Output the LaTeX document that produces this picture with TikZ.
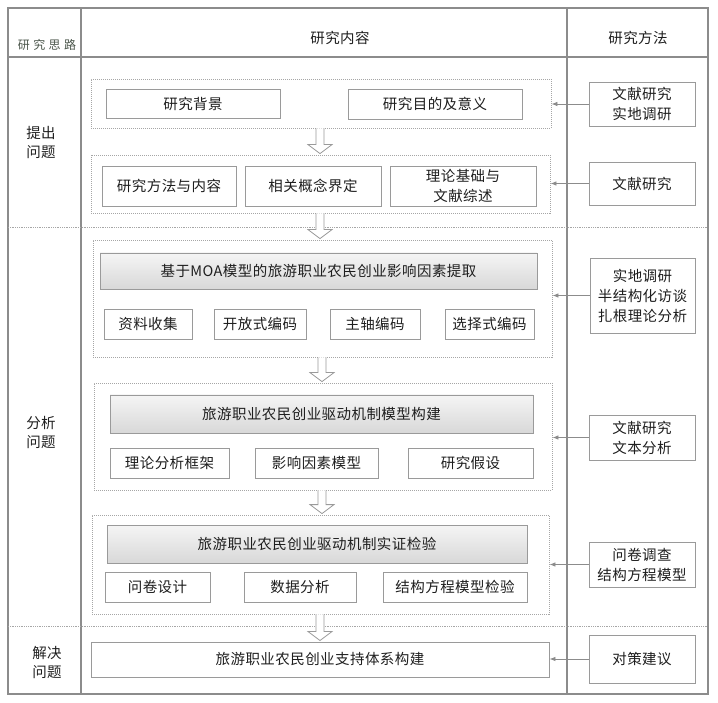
\documentclass[tikz,border=0pt]{standalone}
\usepackage{fontspec}
\setmainfont{Noto Sans CJK SC}
\newfontfamily\cjksp[LetterSpace=3]{Noto Sans CJK SC}
\newfontfamily\cjkwide[LetterSpace=28]{Noto Sans CJK SC}
\usetikzlibrary{calc,shadows,arrows.meta}
\definecolor{linegray}{HTML}{8C8C8C}
\definecolor{boxgray}{HTML}{9A9A9A}
\definecolor{dotgray}{HTML}{A6A6A6}
\definecolor{txt}{HTML}{1E1E1E}
\definecolor{gradtop}{HTML}{F5F5F5}
\definecolor{gradbot}{HTML}{D8D8D8}
\definecolor{hdrgray}{HTML}{4A554A}
\newcommand\harr[3]{%
  \coordinate (hx) at (#3,0);
  \draw[harrow] ($(#1.south -| hx)+(-4,0)$) -- ($(#2.north -| hx)+(-4,-10)$)
    -- ($(#2.north -| hx)+(-12,-10)$) -- ($(#2.north -| hx)+(0,-1)$)
    -- ($(#2.north -| hx)+(12,-10)$) -- ($(#2.north -| hx)+(4,-10)$)
    -- ($(#1.south -| hx)+(4,0)$);}
\begin{document}
\begin{tikzpicture}[x=1pt,y=-1pt,
  frame/.style={draw=linegray, line width=1.1pt},
  rowline/.style={draw=dotgray, line width=0.9pt, dash pattern=on 1pt off 0.8pt},
  group/.style={draw=dotgray, line width=0.8pt, dash pattern=on 1pt off 1pt, rectangle, inner sep=0pt},
  box/.style={draw=boxgray, line width=0.9pt, fill=white, rectangle, inner sep=0pt, align=center,
    text=txt, font=\cjksp\fontsize{14.5}{20}\selectfont,
    drop shadow={shadow xshift=0.9pt, shadow yshift=-0.9pt, fill=black!30, opacity=0.5}},
  headbox/.style={box, top color=gradtop, bottom color=gradbot},
  lbl/.style={align=center, text=txt, font=\cjksp\fontsize{14.5}{19}\selectfont, inner sep=0pt},
  harrow/.style={draw=boxgray, fill=white, line width=0.8pt, line join=miter},
  sidearrow/.style={draw=linegray, line width=0.8pt, -{Latex[length=6pt,width=4.5pt]}}
]
\useasboundingbox (0,0) rectangle (718,703);

% frame
\draw[frame] (8,8) rectangle (708,694);
\draw[frame] (81,8) -- (81,694);
\draw[frame] (567,8) -- (567,694);
\draw[frame] (8,57) -- (708,57);
\draw[rowline] (8,227) -- (708,227);
\draw[rowline] (8,626) -- (708,626);

% header
\node[text=hdrgray, font=\cjkwide\fontsize{12}{14}\selectfont, inner sep=0pt] (h1) at (47,45) {研究思路};
\node[lbl] (h2) at (340,38) {研究内容};
\node[lbl] (h3) at (638,38) {研究方法};

% left labels
\node[lbl] (l1) at (41,142) {提出\\问题};
\node[lbl] (l2) at (41,432) {分析\\问题};
\node[lbl] (l3) at (47,662) {解决\\问题};

% group 1
\node[group, minimum width=460, minimum height=49] (g1) at (321,103.5) {};
\node[box, minimum width=174, minimum height=29] (b11) at (193,103.5) {研究背景};
\node[box, minimum width=174, minimum height=30] (b12) at (435,104) {研究目的及意义};

% group 2
\node[group, minimum width=459, minimum height=58] (g2) at (320.5,184) {};
\node[box, minimum width=134, minimum height=40] (b21) at (169,186) {研究方法与内容};
\node[box, minimum width=136, minimum height=40] (b22) at (313,186) {相关概念界定};
\node[box, minimum width=146, minimum height=40] (b23) at (463,186) {理论基础与\\文献综述};

% group 3
\node[group, minimum width=459, minimum height=117] (g3) at (322.5,298.5) {};
\node[headbox, minimum width=437, minimum height=36] (h3b) at (318.5,271) {基于MOA模型的旅游职业农民创业影响因素提取};
\node[box, minimum width=88, minimum height=30] (b31) at (148,324) {资料收集};
\node[box, minimum width=92, minimum height=30] (b32) at (260,324) {开放式编码};
\node[box, minimum width=90, minimum height=30] (b33) at (375,324) {主轴编码};
\node[box, minimum width=89, minimum height=30] (b34) at (489.5,324) {选择式编码};

% group 4
\node[group, minimum width=458, minimum height=107] (g4) at (323,436.5) {};
\node[headbox, minimum width=423, minimum height=38] (h4b) at (321.5,414) {旅游职业农民创业驱动机制模型构建};
\node[box, minimum width=119, minimum height=30] (b41) at (169.5,463) {理论分析框架};
\node[box, minimum width=123, minimum height=30] (b42) at (316.5,463) {影响因素模型};
\node[box, minimum width=125, minimum height=30] (b43) at (470.5,463) {研究假设};

% group 5
\node[group, minimum width=457, minimum height=99] (g5) at (320.5,564.5) {};
\node[headbox, minimum width=420, minimum height=38] (h5b) at (317,544) {旅游职业农民创业驱动机制实证检验};
\node[box, minimum width=105, minimum height=30] (b51) at (157.5,587) {问卷设计};
\node[box, minimum width=112, minimum height=30] (b52) at (300,587) {数据分析};
\node[box, minimum width=144, minimum height=30] (b53) at (455,587) {结构方程模型检验};

% final box
\node[box, minimum width=458, minimum height=35] (b6) at (320,659.5) {旅游职业农民创业支持体系构建};

% right column
\node[box, minimum width=106, minimum height=44] (r1) at (642,104) {文献研究\\实地调研};
\node[box, minimum width=106, minimum height=43] (r2) at (642,183.5) {文献研究};
\node[box, minimum width=105, minimum height=75] (r3) at (642.5,295.5) {实地调研\\半结构化访谈\\扎根理论分析};
\node[box, minimum width=106, minimum height=45] (r4) at (642,437.5) {文献研究\\文本分析};
\node[box, minimum width=106, minimum height=45] (r5) at (642,564.5) {问卷调查\\结构方程模型};
\node[box, minimum width=106, minimum height=48] (r6) at (642,659) {对策建议};

% side arrows
\draw[sidearrow] (r1.west) -- (r1.west -| g1.east);
\draw[sidearrow] (r2.west) -- (r2.west -| g2.east);
\draw[sidearrow] (r3.west) -- (r3.west -| g3.east);
\draw[sidearrow] (r4.west) -- (r4.west -| g4.east);
\draw[sidearrow] (r5.west) -- (r5.west -| g5.east);
\draw[sidearrow] (r6.west) -- (r6.west -| b6.east);

% hollow arrows
\harr{g1}{g2}{320}
\harr{g2}{g3}{320}
\harr{g3}{g4}{322}
\harr{g4}{g5}{322}
\harr{g5}{b6}{320}
\end{tikzpicture}
\end{document}
